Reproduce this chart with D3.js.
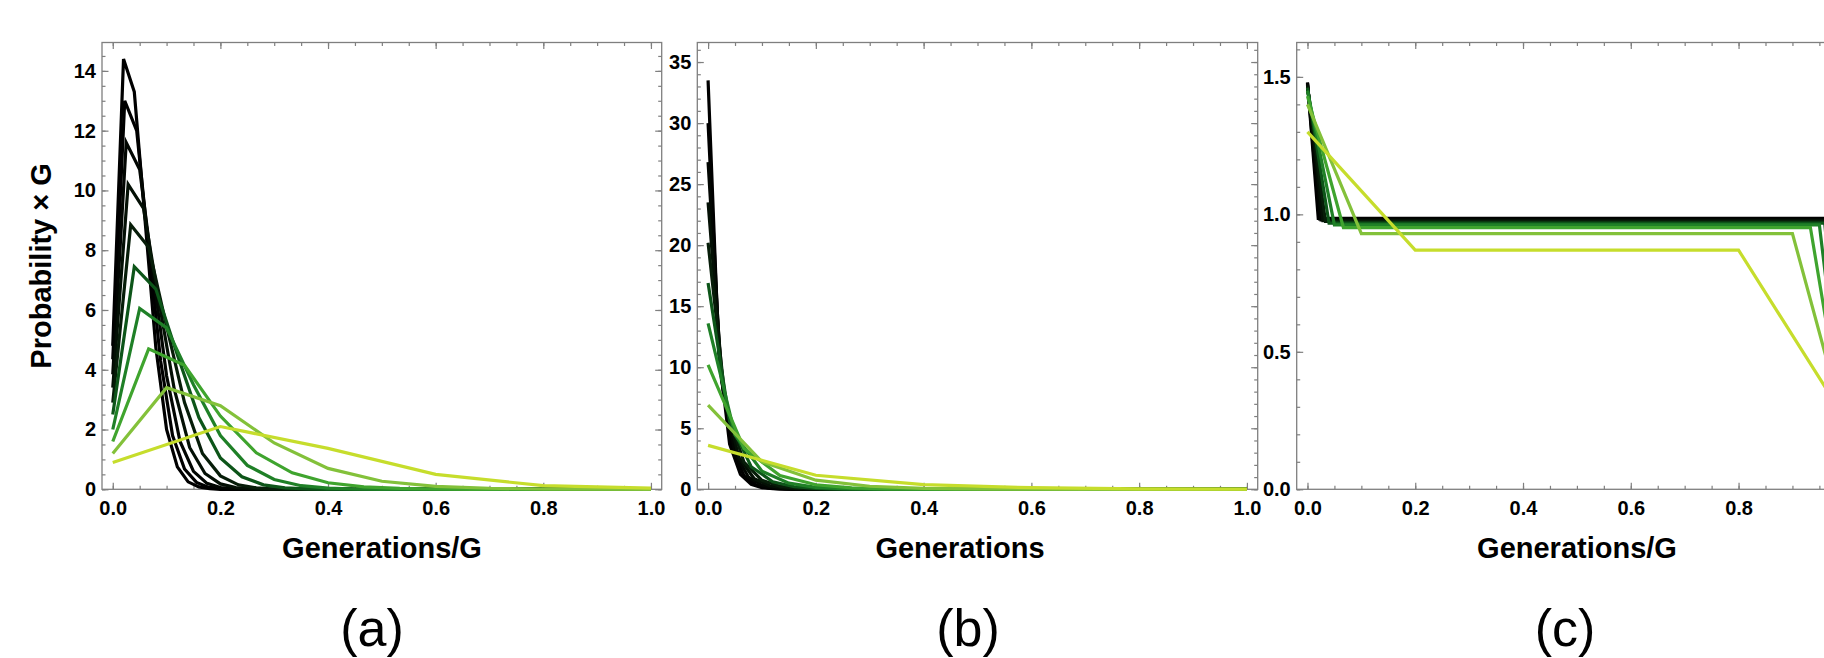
<!DOCTYPE html>
<html lang="en">
<head>
<meta charset="UTF-8">
<title>Generation distributions</title>
<script src="https://d3js.org/d3.v7.min.js"></script>
<style>
  body { margin: 0; background: #ffffff; }
  svg { display: block; }
  .tick-label { font-family: "Liberation Sans", Arial, sans-serif; font-weight: bold; font-size: 20px; fill: #000; }
  .axis-title { font-family: "Liberation Sans", Arial, sans-serif; font-weight: bold; font-size: 29px; fill: #000; }
  .panel-label { font-family: "Liberation Sans", Arial, sans-serif; font-size: 52px; fill: #000; }
  .frame { fill: none; stroke: #7f7f7f; stroke-width: 1.3px; }
  .series { fill: none; stroke-width: 3.2px; }
</style>
</head>
<body>
<svg width="1824" height="658"></svg>
<script>
// series order: drawn first (black) to last (yellow)
const gens = [50, 45, 40, 35, 30, 25, 20, 15, 10, 5];
const lineColors = ["#000000", "#000000", "#020602", "#041005", "#071d09",
                    "#0d5519", "#1f8027", "#3fa42e", "#83c13a", "#c6dd2c"];

// (a) Probability x G at generation k, plotted at k/G
const probA = [
  [4.8, 14.4, 13.3, 9.0, 4.75, 2.0, 0.75, 0.25, 0.08, 0.02, 0],
  [4.35, 13.0, 12.0, 8.1, 4.3, 1.8, 0.68, 0.23, 0.07, 0.02, 0],
  [3.85, 11.6, 10.7, 7.2, 3.8, 1.6, 0.6, 0.2, 0.06, 0.02, 0],
  [3.4, 10.2, 9.4, 6.3, 3.35, 1.4, 0.53, 0.18, 0.06, 0.02, 0],
  [2.9, 8.85, 8.1, 5.45, 2.9, 1.2, 0.45, 0.15, 0.05, 0.01, 0],
  [2.5, 7.45, 6.7, 4.5, 2.4, 1.05, 0.42, 0.15, 0.05, 0.015, 0],
  [2.0, 6.05, 5.4, 3.5, 1.8, 0.8, 0.33, 0.12, 0.04, 0.01, 0],
  [1.6, 4.7, 4.15, 2.45, 1.22, 0.55, 0.22, 0.08, 0.03, 0.01, 0],
  [1.2, 3.4, 2.8, 1.55, 0.7, 0.27, 0.1, 0.035, 0.01, 0.003, 0],
  [0.9, 2.1, 1.37, 0.5, 0.12, 0.04]
];

// (b) same, other quantity
const probB = [
  [33.5, 11.1, 3.7, 1.23, 0.41, 0.14, 0.05, 0.015, 0],
  [30.0, 10.0, 3.33, 1.11, 0.37, 0.12, 0.04, 0.01, 0],
  [26.8, 8.9, 2.96, 0.99, 0.33, 0.11, 0.04, 0.01, 0],
  [23.5, 7.8, 2.6, 0.86, 0.29, 0.1, 0.03, 0.01, 0],
  [20.2, 6.7, 2.22, 0.74, 0.25, 0.08, 0.03, 0.01, 0],
  [16.9, 5.55, 1.85, 0.62, 0.21, 0.07, 0.02, 0.01, 0],
  [13.6, 4.45, 1.48, 0.5, 0.16, 0.05, 0.02, 0.01, 0],
  [10.2, 3.35, 1.12, 0.37, 0.12, 0.04, 0.01, 0],
  [6.9, 2.25, 0.75, 0.25, 0.08, 0.03, 0.01, 0],
  [3.6, 1.15, 0.38, 0.13, 0.04, 0.01]
];

// (c) value at k=0, plateau from k=1 to k=G-1, value at k=G
const startC   = [1.48, 1.478, 1.475, 1.47, 1.465, 1.46, 1.45, 1.43, 1.40, 1.30];
const plateauC = [0.985, 0.983, 0.98, 0.977, 0.974, 0.968, 0.962, 0.952, 0.93, 0.87];
const endC     = [0.05, 0.06, 0.07, 0.08, 0.10, 0.12, 0.14, 0.17, 0.21, 0.25];

const xTicks = [0, 0.2, 0.4, 0.6, 0.8, 1.0];
const yTicksA = [0, 2, 4, 6, 8, 10, 12, 14];
const yTicksB = [0, 5, 10, 15, 20, 25, 30, 35];
const yTicksC = [0, 0.5, 1.0, 1.5];

const svg = d3.select("svg");
const svgWidth = +svg.attr("width");
const plotTop = 42.5, plotBottom = 489.3;

function pointsFromK(vals, G) {
  let pts = vals.map((v, k) => [k / G, v]);
  if (pts[pts.length - 1][0] < 1) pts.push([1, 0]);
  return pts;
}

const panels = [
  { left: 102, right: 661.7, yMax: 14.95, yTicks: yTicksA, yMinor: 0.5, yFmt: d3.format("d"),
    series: probA.map((vals, i) => pointsFromK(vals, gens[i])),
    title: "Generations/G", titleX: 382, label: "(a)", labelX: 372 },
  { left: 697.3, right: 1257.7, yMax: 36.6, yTicks: yTicksB, yMinor: 1, yFmt: d3.format("d"),
    series: probB.map((vals, i) => pointsFromK(vals, gens[i])),
    title: "Generations", titleX: 960, label: "(b)", labelX: 968 },
  { left: 1296.7, right: 1857.1, yMax: 1.625, yTicks: yTicksC, yMinor: 0.1, yFmt: d3.format(".1f"),
    series: gens.map((G, i) => [[0, startC[i]], [1 / G, plateauC[i]], [(G - 1) / G, plateauC[i]], [1, endC[i]]]),
    title: "Generations/G", titleX: 1577, label: "(c)", labelX: 1565 }
];

panels.forEach(p => {
  const x = d3.scaleLinear().domain([-0.02, 1.02]).range([p.left, p.right]);
  const y = d3.scaleLinear().domain([0, p.yMax]).range([plotBottom, plotTop]);
  const g = svg.append("g");

  const xMinor = d3.range(0, 1.0001, 0.05);
  const yMinor = d3.range(0, p.yMax, p.yMinor);

  // minor ticks, all four sides, pointing inward
  const minorAxes = [
    [d3.axisBottom(x).tickValues(xMinor), plotBottom, 0],
    [d3.axisTop(x).tickValues(xMinor), plotTop, 0],
    [d3.axisLeft(y).tickValues(yMinor), 0, p.left],
    [d3.axisRight(y).tickValues(yMinor), 0, p.right]
  ];
  minorAxes.forEach(([ax, ty, tx]) => {
    g.append("g").attr("transform", `translate(${tx},${ty})`)
      .call(ax.tickSize(-3.5).tickSizeOuter(0).tickFormat(""));
  });

  // major ticks; labels only where they fall inside the picture
  const fmtX = d3.format(".1f");
  g.append("g").attr("transform", `translate(0,${plotTop})`)
    .call(d3.axisTop(x).tickValues(xTicks).tickSize(-6.5).tickSizeOuter(0).tickFormat(""));
  g.append("g").attr("transform", `translate(${p.right},0)`)
    .call(d3.axisRight(y).tickValues(p.yTicks).tickSize(-6.5).tickSizeOuter(0).tickFormat(""));
  g.append("g").attr("transform", `translate(0,${plotBottom})`)
    .call(d3.axisBottom(x).tickValues(xTicks).tickSize(-6.5).tickSizeOuter(0)
      .tickPadding(11.5).tickFormat(d => x(d) + 15 < svgWidth ? fmtX(d) : ""));
  g.append("g").attr("transform", `translate(${p.left},0)`)
    .call(d3.axisLeft(y).tickValues(p.yTicks).tickSize(-6.5).tickSizeOuter(0)
      .tickPadding(6).tickFormat(p.yFmt));

  g.selectAll(".domain").remove();
  g.selectAll(".tick line").attr("stroke", "#7f7f7f").attr("stroke-width", 1.2);
  g.selectAll(".tick text").attr("class", "tick-label");

  g.append("rect").attr("class", "frame")
    .attr("x", p.left).attr("y", plotTop)
    .attr("width", p.right - p.left).attr("height", plotBottom - plotTop);

  const line = d3.line().x(d => x(d[0])).y(d => y(d[1]));
  g.append("g").selectAll("path")
    .data(p.series)
    .join("path")
    .attr("class", "series")
    .attr("stroke", (d, i) => lineColors[i])
    .attr("d", line);

  svg.append("text").attr("class", "axis-title")
    .attr("x", p.titleX).attr("y", 558).attr("text-anchor", "middle")
    .text(p.title);
  svg.append("text").attr("class", "panel-label")
    .attr("x", p.labelX).attr("y", 646).attr("text-anchor", "middle")
    .text(p.label);
});

svg.append("text").attr("class", "axis-title")
  .attr("transform", `translate(51,${(plotTop + plotBottom) / 2}) rotate(-90)`)
  .attr("text-anchor", "middle")
  .text("Probability × G");
</script>
</body>
</html>
